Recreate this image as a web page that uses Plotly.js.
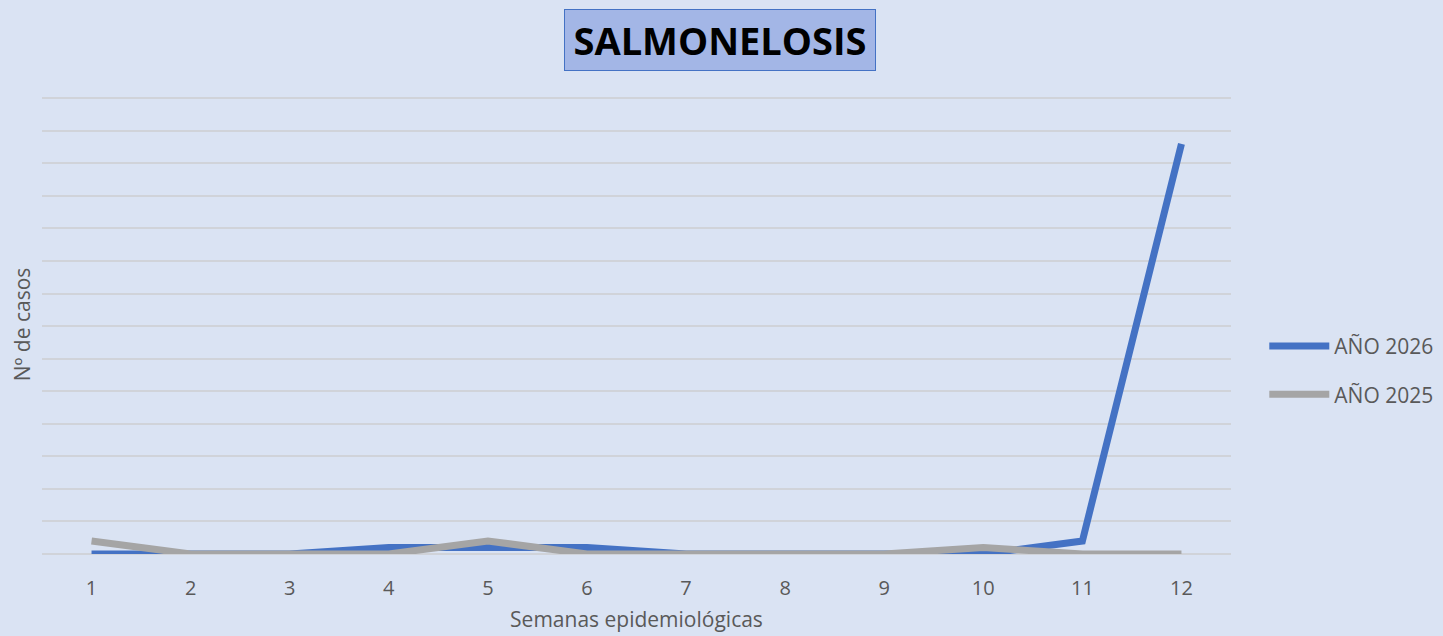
<!DOCTYPE html>
<html><head><meta charset="utf-8">
<script src="https://cdn.plot.ly/plotly-3.0.1.min.js"></script>
<style>html,body{margin:0;padding:0;background:#dae3f3;}</style>
</head><body>
<div id="chart" style="width:1443px;height:636px;"></div>
<script>
const weeks = ["1","2","3","4","5","6","7","8","9","10","11","12"];
const cases2026 = [0,0,0,1,1,1,0,0,0,0,2,63];
const cases2025 = [2,0,0,0,2,0,0,0,0,1,0,0];
const seriesNames = ["AÑO 2026","AÑO 2025"];
const titleText = "SALMONELOSIS";
const xTitle = "Semanas epidemiológicas";
const yTitle = "Nº de casos";

const traces = [
  {x: weeks, y: cases2026, name: seriesNames[0], type: "scatter", mode: "lines",
   line: {color: "#4472c4", width: 7}, legendgroup: "a"},
  {x: weeks, y: cases2025, name: seriesNames[1], type: "scatter", mode: "lines",
   line: {color: "#a5a5a5", width: 7}, legendgroup: "b"}
];
const layout = {
  width: 1443, height: 636,
  paper_bgcolor: "#dae3f3", plot_bgcolor: "#dae3f3",
  margin: {l: 42, r: 212, t: 95, b: 82, autoexpand: false},
  font: {family: "Open Sans, sans-serif", color: "#595959", size: 20},
  showlegend: true,
  legend: {x: 1.028, y: 0.40, yanchor: "middle", xanchor: "left",
           font: {size: 21, color: "#595959"}, tracegroupgap: 18,
           bgcolor: "rgba(0,0,0,0)", itemwidth: 60},
  xaxis: {type: "category", range: [-0.5, 11.5], showgrid: false, zeroline: false,
          showline: false, ticks: "", tickfont: {size: 20, color: "#595959"},
          ticklabelstandoff: 20,
          title: {text: xTitle, font: {size: 21, color: "#595959"}, standoff: 12}},
  yaxis: {range: [0, 70.5], dtick: 5, showticklabels: false, showgrid: true,
          gridcolor: "#d0d3d9", gridwidth: 2, zeroline: true, zerolinecolor: "#d0d3d9",
          zerolinewidth: 2, fixedrange: true,
          title: {text: yTitle, font: {size: 21, color: "#595959"}, standoff: 4}},
  annotations: [{
    xref: "paper", yref: "paper", x: 0.5702, y: 1.1198, xanchor: "center", yanchor: "middle",
    text: "<b>" + titleText + "</b>", showarrow: false,
    font: {family: "Open Sans, sans-serif", size: 38, color: "#000000"},
    bgcolor: "#a3b6e6", bordercolor: "#4472c4", borderwidth: 1,
    width: 308, height: 58
  }]
};
Plotly.newPlot("chart", traces, layout, {displayModeBar: false});
</script>
</body></html>
